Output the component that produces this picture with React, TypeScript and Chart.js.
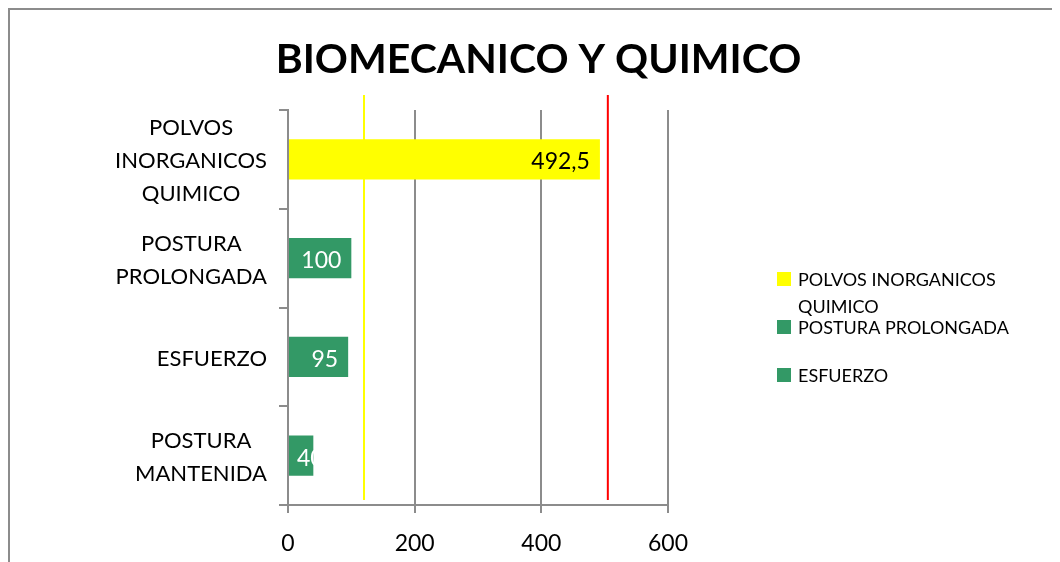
import React, { useEffect, useRef } from "react";
import { Chart, registerables } from "chart.js";

Chart.register(...registerables);

const TITLE = "BIOMECANICO Y QUIMICO";
const categories: string[][] = [
  ["POLVOS", "INORGANICOS", "QUIMICO"],
  ["POSTURA", "PROLONGADA"],
  ["ESFUERZO"],
  ["POSTURA", "MANTENIDA"],
];
const values = [492.5, 100, 95, 40];
const barColors = ["#FFFF00", "#339966", "#339966", "#339966"];
const valueLabelColors = ["#000000", "#FFFFFF", "#FFFFFF", "#FFFFFF"];
const legendLabels = ["POLVOS INORGANICOS QUIMICO", "POSTURA PROLONGADA", "ESFUERZO"];
const legendColors = ["#FFFF00", "#339966", "#339966"];
const xTicks = [0, 200, 400, 600];
const refLineValues = [120, 505];
const refLineColors = ["#FFFF00", "#FF0000"];

const GRID = "#8c8c8c";
const FONT = "Lato";

function formatValue(v: number): string {
  return String(v).replace(".", ",");
}

export default function App() {
  const ref = useRef<HTMLCanvasElement | null>(null);

  useEffect(() => {
    const canvas = ref.current;
    if (!canvas) return;

    const overlay = {
      id: "overlay",
      afterDatasetsDraw(chart: any) {
        const ctx = chart.ctx as CanvasRenderingContext2D;
        const area = chart.chartArea;
        const xs = chart.scales.x;
        const ys = chart.scales.y;
        ctx.save();
        // reference lines
        refLineValues.forEach((v, i) => {
          const x = xs.getPixelForValue(v);
          ctx.strokeStyle = refLineColors[i];
          ctx.lineWidth = 2;
          ctx.beginPath();
          ctx.moveTo(x, area.top - 15);
          ctx.lineTo(x, area.bottom - 5);
          ctx.stroke();
        });
        // value labels
        const meta = chart.getDatasetMeta(0);
        ctx.font = `23px ${FONT}`;
        ctx.textAlign = "left";
        ctx.textBaseline = "alphabetic";
        meta.data.forEach((el: any, i: number) => {
          const txt = formatValue(values[i]);
          const w = ctx.measureText(txt).width;
          const x = Math.max(el.base + 8, el.x - 10 - w);
          ctx.fillStyle = valueLabelColors[i];
          ctx.fillText(txt, x, el.y + 10);
        });
        // category labels
        ctx.font = `22px ${FONT}`;
        (ctx as any).letterSpacing = "0px";
        ctx.fillStyle = "#000";
        ctx.textAlign = "center";
        categories.forEach((lines, i) => {
          const yc = ys.getPixelForValue(i);
          const blockW = Math.max(...lines.map((l) => ctx.measureText(l).width));
          const right = area.left - 21;
          const cx = right - blockW / 2;
          const n = lines.length;
          lines.forEach((l, j) => {
            const y = yc + 9 + (j - (n - 1) / 2) * 33;
            ctx.fillText(l, cx, y);
          });
        });
        ctx.restore();
      },
      afterDraw(chart: any) {
        const ctx = chart.ctx as CanvasRenderingContext2D;
        ctx.save();
        // title
        ctx.font = `bold 41px ${FONT}`;
        ctx.fillStyle = "#000";
        ctx.textAlign = "center";
        ctx.textBaseline = "alphabetic";
        ctx.fillText(TITLE, 528.5, 63);
        // legend
        ctx.font = `18px ${FONT}`;
        ctx.textAlign = "left";
        const legendLeft = 767;
        const legendTop = 262;
        const step = 48;
        const maxW = 220;
        legendLabels.forEach((label, i) => {
          const top = legendTop + i * step;
          ctx.fillStyle = legendColors[i];
          ctx.fillRect(legendLeft, top, 14, 14);
          const words = label.split(" ");
          const lines: string[] = [];
          let cur = "";
          words.forEach((w) => {
            const t = cur ? cur + " " + w : w;
            if (ctx.measureText(t).width > maxW && cur) {
              lines.push(cur);
              cur = w;
            } else cur = t;
          });
          if (cur) lines.push(cur);
          ctx.fillStyle = "#000";
          lines.forEach((l, j) => {
            ctx.fillText(l, legendLeft + 21, top + 14 + j * 27);
          });
        });
        ctx.restore();
      },
    };

    const chart = new Chart(canvas, {
      type: "bar",
      data: {
        labels: categories.map((c) => c.join(" ")),
        datasets: [
          {
            data: values,
            backgroundColor: barColors,
            borderWidth: 0,
            barPercentage: 0.41,
            categoryPercentage: 1,
          },
        ],
      },
      options: {
        animation: false,
        responsive: false,
        maintainAspectRatio: false,
        indexAxis: "y",
        layout: { padding: { top: 100, right: 392, left: 0, bottom: 0 } },
        plugins: {
          legend: { display: false },
          title: { display: false },
          tooltip: { enabled: false },
        },
        scales: {
          x: {
            min: 0,
            max: 600,
            afterBuildTicks: (s: any) => {
              s.ticks = xTicks.map((v) => ({ value: v }));
            },
            ticks: {
              font: { family: FONT, size: 23 },
              color: "#000",
              padding: 17,
              maxRotation: 0,
            },
            grid: { color: GRID, lineWidth: 2, tickLength: 8, drawTicks: true },
            border: { display: true, color: GRID, width: 2 },
            afterFit: (s: any) => {
              s.height = 57;
            },
          },
          y: {
            grid: {
              offset: true,
              drawOnChartArea: false,
              color: GRID,
              lineWidth: 2,
              tickLength: 9,
            },
            border: { display: true, color: GRID, width: 2 },
            ticks: { display: false },
            afterFit: (s: any) => {
              s.width = 278;
            },
          },
        },
      },
      plugins: [overlay],
    } as any);

    return () => chart.destroy();
  }, []);

  return (
    <div
      style={{
        width: 1052,
        height: 554,
        boxSizing: "border-box",
        borderLeft: "2px solid #8c8c8c",
        borderTop: "2px solid #8c8c8c",
        background: "#fff",
      }}
    >
      <canvas ref={ref} width={1050} height={552} style={{ display: "block" }} />
    </div>
  );
}
